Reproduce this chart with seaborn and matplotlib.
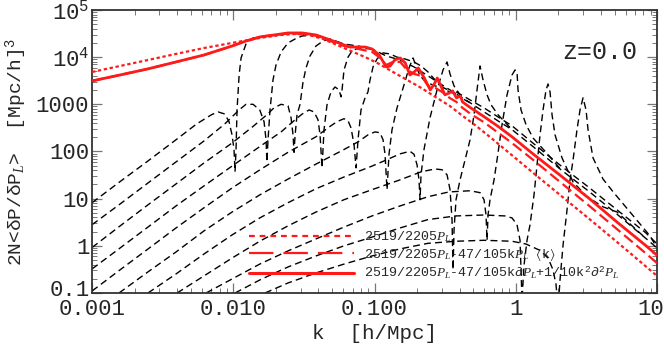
"""Response of the nonlinear power spectrum to the linear one, z=0.

Black dashed curves: measured 2N<dP/dP_L> for a set of k bins.
Red curves: the three analytic approximations from the legend.
"""

import matplotlib

matplotlib.use("Agg")

import matplotlib.pyplot as plt
import seaborn as sns
from matplotlib.transforms import ScaledTranslation

# --- red curves (k in h/Mpc, value in (Mpc/h)^3) -------------------------
DOTTED_K = [0.001, 0.00158, 0.00249, 0.00393, 0.0062, 0.0098, 0.0154, 0.0218,
            0.0274, 0.0344, 0.0432, 0.0543, 0.068, 0.086, 0.108, 0.135, 0.170,
            0.214, 0.269, 0.34, 0.42, 0.53, 0.67, 0.84, 1.33, 2.10, 3.32, 5.2,
            8.3, 10]
DOTTED_V = [4850, 6500, 8700, 11700, 15600, 20000, 25500, 29500, 31000, 29500,
            24300, 18100, 13500, 10000, 7150, 4850, 3290, 2230, 1440, 930, 570,
            340, 193, 110, 35, 11.4, 3.7, 1.21, 0.37, 0.23]

SOLID_K = [0.001, 0.00158, 0.00249, 0.00393, 0.0062, 0.0098, 0.0123, 0.0154,
           0.0194, 0.0244, 0.0307, 0.0386, 0.0485, 0.061, 0.068, 0.077, 0.086,
           0.096, 0.108, 0.121, 0.129, 0.139, 0.152, 0.165, 0.178, 0.191,
           0.204, 0.225, 0.248, 0.265, 0.278, 0.295, 0.315, 0.34, 0.357, 0.38,
           0.405, 0.42, 0.48, 0.60, 0.75, 0.94, 1.33, 2.10, 3.32, 5.2, 8.3, 10]
SOLID_V = [3130, 4190, 5640, 7900, 11100, 17200, 22000, 26800, 29500, 32600,
           32600, 29500, 23200, 18100, 16400, 16400, 16400, 14900, 11100, 6200,
           6500, 8700, 9600, 7500, 4190, 4850, 5900, 3620, 2020, 2700, 3620,
           2450, 1590, 1750, 1930, 1370, 1500, 1120, 840, 540, 340, 205, 88,
           30, 10, 3.2, 1.02, 0.63]

DASHED_K = [0.001, 0.00158, 0.00249, 0.00393, 0.0062, 0.0098, 0.0123, 0.0154,
            0.0194, 0.0244, 0.0307, 0.0386, 0.0485, 0.061, 0.077, 0.096, 0.108,
            0.121, 0.135, 0.152, 0.170, 0.191, 0.214, 0.240, 0.269, 0.30, 0.34,
            0.38, 0.42, 0.48, 0.60, 0.75, 0.94, 1.33, 2.10, 3.32, 5.2, 8.3, 10]
DASHED_V = [3130, 4190, 5640, 7900, 11100, 17200, 22000, 26800, 29500, 31500,
            31500, 28500, 22000, 17200, 14900, 12900, 10000, 6830, 7900, 7900,
            5350, 4400, 4000, 2450, 2230, 1840, 1370, 1120, 840, 624, 410, 250,
            151, 66, 21.5, 7.0, 2.27, 0.70, 0.43]

# --- black curves: common high-k bundle + one head per k bin -------------
TAIL_K = [0.0154, 0.0194, 0.0244, 0.0307, 0.0385, 0.0484, 0.0608, 0.0764,
          0.096, 0.121, 0.1515, 0.1904, 0.2392, 0.3006, 0.3776, 0.4745, 0.596,
          0.7488, 0.9408, 1.325, 2.10, 3.32, 5.2, 8.3, 10]
TAIL_V = [26800, 29500, 32600, 32600, 29500, 23200, 19000, 17200, 14900, 10600,
          8700, 6200, 4000, 2580, 1670, 1080, 690, 445, 290, 127, 40.5, 14, 4.7,
          1.45, 0.9]
# a second, slightly higher strand of the bundle at high k
TAIL2_K = [0.3776, 0.4745, 0.596, 0.7488, 0.9408, 1.325, 2.10, 3.32, 5.2, 8.3,
           10]
TAIL2_V = [1840, 1240, 840, 540, 350, 150, 49, 17, 5.8, 1.9, 1.1]

C1_K = [0.001, 0.00158, 0.00249, 0.00393, 0.0055, 0.0070, 0.0078, 0.0087,
        0.00933, 0.0098, 0.01012, 0.01029, 0.01046, 0.01063, 0.0110, 0.01135,
        0.0123, 0.0138]
C1_V = [8.2, 23, 63, 177, 383, 600, 690, 624, 430, 225, 110, 37, 110, 760,
        4190, 9600, 19000, 25500]

C2_K = [0.001, 0.00158, 0.00249, 0.00393, 0.0062, 0.0087, 0.0110, 0.0123,
        0.0138, 0.0154, 0.01651, 0.01706, 0.0173, 0.01762, 0.0182, 0.01911,
        0.02007, 0.0218, 0.0244, 0.0274, 0.0307]
C2_V = [2.8, 7.7, 21.5, 60, 167, 383, 760, 1000, 1000, 760, 430, 177, 60, 177,
        760, 3290, 6830, 12900, 20000, 24300, 28100]

C3_K = [0.001, 0.00158, 0.00249, 0.00393, 0.0062, 0.0098, 0.0138, 0.0173,
        0.0194, 0.0218, 0.0244, 0.02564, 0.02649, 0.02692, 0.0274, 0.02827,
        0.0297, 0.03118, 0.03273, 0.03494, 0.0385, 0.0432, 0.0484]
C3_V = [0.92, 2.64, 7.4, 20.5, 57, 151, 340, 600, 840, 1000, 930, 520, 225, 96,
        225, 600, 1000, 2980, 5900, 10600, 17200, 22000, 24300]

C4_K = [0.001, 0.00158, 0.00249, 0.00393, 0.0062, 0.0098, 0.0154, 0.0218,
        0.0274, 0.0307, 0.0344, 0.0373, 0.0398, 0.04114, 0.0425, 0.0439,
        0.0461, 0.0492, 0.05254, 0.05608, 0.05793, 0.0589, 0.0608, 0.0649,
        0.0693, 0.0764]
C4_V = [0.323, 0.90, 2.5, 7.0, 18.6, 49, 127, 260, 470, 620, 760, 690, 470, 225,
        45, 290, 980, 1840, 2330, 2020, 1440, 2020, 5350, 10000, 13500, 15600]

C5_K = [0.001, 0.00158, 0.00249, 0.00393, 0.0062, 0.0098, 0.01547, 0.0244,
        0.0385, 0.0484, 0.0543, 0.0608, 0.0649, 0.0682, 0.0716, 0.0740, 0.0764,
        0.0802, 0.0857, 0.0899, 0.0929, 0.0976, 0.1041, 0.1149, 0.1287,
        0.1443, 0.1644, 0.1904, 0.2134, 0.2392, 0.2682, 0.3006, 0.3369]
C5_V = [0.110, 0.31, 0.857, 2.39, 6.4, 16.8, 41, 96, 205, 340, 430, 495, 450,
        315, 140, 45, 177, 760, 1370, 1840, 3290, 6200, 9140, 12300, 11700,
        10000, 9140, 7900, 6500, 4850, 3290, 2330, 1840]

C6_K = [0.001553, 0.00249, 0.00393, 0.0062, 0.0098, 0.01547, 0.0244, 0.0385,
        0.0608, 0.0764, 0.0899, 0.1008, 0.1093, 0.1149, 0.1187, 0.1226, 0.1266,
        0.1330, 0.1443, 0.1617, 0.1755, 0.1874, 0.1967, 0.2100, 0.2315,
        0.2682, 0.3006]
C6_V = [0.1, 0.28, 0.74, 2.07, 5.2, 12.1, 26, 54, 110, 160, 225, 260, 250, 177,
        87, 15.5, 87, 290, 840, 2580, 5900, 9600, 6500, 4000, 2980, 2450, 2330]

C7_K = [0.00249, 0.00393, 0.0062, 0.0098, 0.0154, 0.0244, 0.0385, 0.0608,
        0.096, 0.121, 0.1515, 0.1784, 0.1904, 0.2000, 0.2065, 0.2100, 0.2134,
        0.2240, 0.2471, 0.2770, 0.3055, 0.3262, 0.3424, 0.3655, 0.4030, 0.4232]
C7_V = [0.1, 0.253, 0.67, 1.7, 3.9, 8.2, 16.2, 28.8, 49, 66, 89, 101, 87, 52,
        25, 9.5, 32, 110, 520, 2020, 5350, 7900, 4400, 2450, 1590, 1300]

C8_K = [0.0040, 0.0062, 0.0098, 0.0154, 0.0244, 0.0385, 0.0608, 0.096, 0.1515,
        0.2134, 0.2682, 0.3006, 0.3262, 0.3424, 0.3537, 0.3595, 0.3655,
        0.3776, 0.4030, 0.4372, 0.4745, 0.5064, 0.5317, 0.5584, 0.5864,
        0.6259, 0.6680, 0.7488]
C8_V = [0.1, 0.23, 0.55, 1.25, 2.65, 5.2, 9.5, 15.5, 25, 37, 42.6, 41, 32, 15.5,
        3.6, 0.31, 2.2, 9.5, 25, 66, 177, 600, 2020, 6500, 3290, 1590, 980, 600]

C9_K = [0.00642, 0.0098, 0.0154, 0.0244, 0.0385, 0.0608, 0.096, 0.1515, 0.2392,
        0.3369, 0.4745, 0.5584, 0.5960, 0.6157, 0.6259, 0.6362, 0.6571,
        0.7015, 0.7366, 0.7991, 0.8672, 0.9408, 0.9879, 1.0205, 1.0373,
        1.0893, 1.1820, 1.3250, 1.611]
C9_V = [0.1, 0.198, 0.41, 0.78, 1.40, 2.5, 4.3, 7.0, 11, 13.9, 14.7, 13.4, 9.5,
        4.5, 1.31, 4.5, 9.5, 25, 66, 370, 1590, 4190, 5350, 4850, 2020, 760,
        370, 193, 101]

C10_K = [0.01029, 0.01547, 0.0244, 0.0385, 0.0608, 0.096, 0.1515, 0.2392,
         0.3776, 0.5960, 0.8393, 0.9408, 1.0205, 1.0717, 1.1072, 1.1439,
         1.2012, 1.2616, 1.3466, 1.4140, 1.4850, 1.5596, 1.6378, 1.6920,
         1.7481, 1.8059, 1.8966, 2.1259, 2.5435, 3.1949, 4.1464, 5.2115]
C10_V = [0.1, 0.19, 0.356, 0.61, 1.0, 1.53, 2.39, 3.6, 4.3, 4.5, 4.3, 3.9, 2.8,
         1.31, 0.071, 0.39, 1.31, 2.8, 12.1, 52, 225, 760, 2020, 2700, 1840,
         600, 225, 73, 22.6, 11, 6.7, 5.2]

C11_K = [0.01678, 0.0244, 0.0385, 0.0608, 0.096, 0.1515, 0.2392, 0.3776,
         0.5960, 0.9408, 1.182, 1.485, 1.692, 1.835, 1.928, 1.991, 2.057,
         2.160, 2.306, 2.423, 2.5435, 2.7136, 2.850, 2.9935, 3.1435, 3.2478,
         3.5238, 4.1464, 4.8818, 6.4407, 8.923]
C11_V = [0.1, 0.163, 0.266, 0.41, 0.61, 0.86, 1.13, 1.25, 1.31, 1.25, 1.09,
         0.80, 0.55, 0.31, 0.15, 0.044, 0.19, 1.02, 5.8, 25, 66, 290, 760,
         1370, 760, 290, 73, 26, 14, 5.2, 1.62]

BINS = [(C1_K, C1_V), (C2_K, C2_V), (C3_K, C3_V), (C4_K, C4_V), (C5_K, C5_V),
        (C6_K, C6_V), (C7_K, C7_V), (C8_K, C8_V), (C9_K, C9_V),
        (C10_K, C10_V), (C11_K, C11_V)]

X_TICKS = [0.001, 0.01, 0.1, 1, 10]
X_LABELS = ["0.001", "0.010", "0.100", "1", "10"]
Y_TICKS = [0.1, 1, 10, 100, 1000, 1e4, 1e5]
Y_LABELS = ["0.1", "1", "10", "100", "1000",
            r"$\mathregular{10^4}$", r"$\mathregular{10^5}$"]

LEGEND_LABELS = [
    r"2519/2205$P_L$",
    r"2519/2205$P_L$-47/105k$P_L$ $\langle$k$\rangle$",
    r"2519/2205$P_L$-47/105k∂$P_L$+1/10k$^2$∂$^2P_L$",
]

RED = "#ff1a1a"
BLACK_DASH = (0, (5, 3))


def join_bundle(k, v, tail_k, tail_v):
    """Extend a bin's own points by the first bundle point past its end."""
    kk, vv = list(k), list(v)
    for tk, tv in zip(tail_k, tail_v):
        if tk > kk[-1] * 1.02:
            kk.append(tk)
            vv.append(tv)
            break
    return kk, vv


def black_line(ax, k, v):
    sns.lineplot(x=k, y=v, ax=ax, color="black", linewidth=1.0,
                 linestyle=BLACK_DASH, sort=False, estimator=None, zorder=2)


def nudge(label, fig, dx, dy):
    """Shift a tick label by (dx, dy) inches."""
    label.set_transform(label.get_transform()
                        + ScaledTranslation(dx, dy, fig.dpi_scale_trans))


def main() -> None:
    sns.set_theme(style="ticks")
    plt.rcParams["font.family"] = ["Liberation Mono", "DejaVu Sans"]
    plt.rcParams["mathtext.fontset"] = "custom"
    plt.rcParams["mathtext.rm"] = "Liberation Mono"
    plt.rcParams["mathtext.it"] = "Liberation Serif:italic"
    plt.rcParams["mathtext.fallback"] = "stix"

    fig = plt.figure(figsize=(6.64, 3.5), dpi=100)
    ax = fig.add_axes([0.1386, 0.1629, 0.8509, 0.8086])
    ax.set_xscale("log")
    ax.set_yscale("log")

    for k, v in BINS:
        black_line(ax, *join_bundle(k, v, TAIL_K, TAIL_V))
    black_line(ax, TAIL_K, TAIL_V)
    black_line(ax, TAIL2_K, TAIL2_V)

    sns.lineplot(x=DOTTED_K, y=DOTTED_V, ax=ax, color=RED, linewidth=1.6,
                 linestyle=(0, (1.5, 1.2)), sort=False, estimator=None,
                 zorder=3, label=LEGEND_LABELS[0])
    sns.lineplot(x=DASHED_K, y=DASHED_V, ax=ax, color=RED, linewidth=1.6,
                 linestyle=(0, (5, 2.2)), sort=False, estimator=None,
                 zorder=3, label=LEGEND_LABELS[1])
    sns.lineplot(x=SOLID_K, y=SOLID_V, ax=ax, color=RED, linewidth=2.0,
                 sort=False, estimator=None, zorder=4,
                 label=LEGEND_LABELS[2])

    ax.set_xlim(0.001, 10)
    ax.set_ylim(0.1, 1e5)
    ax.set_xticks(X_TICKS, X_LABELS)
    ax.set_yticks(Y_TICKS, Y_LABELS)
    ax.tick_params(which="both", direction="in", top=True, right=True,
                   color="#777777", labelsize=16, pad=2)
    ax.tick_params(axis="x", pad=4)
    ax.tick_params(which="major", length=7, width=0.9)
    ax.tick_params(which="minor", length=3.5, width=0.7)
    for spine in ax.spines.values():
        spine.set_linewidth(1.3)
        spine.set_color("#333333")

    # keep the corner labels apart and inside the canvas
    nudge(ax.get_xticklabels()[-1], fig, -0.06, 0)
    nudge(ax.get_yticklabels()[0], fig, 0, 0.05)

    ax.set_xlabel("k  [h/Mpc]", fontsize=15, labelpad=3)
    ax.set_ylabel(r"2N<δP/δP$_L$>  [Mpc/h]$^{\mathregular{3}}$", fontsize=14,
                  labelpad=5)

    ax.text(0.832, 0.852, "z=0.0", transform=ax.transAxes, fontsize=18,
            ha="left", va="center")

    handles, labels = ax.get_legend_handles_labels()
    leg = ax.legend(handles, labels, loc="upper left",
                    bbox_to_anchor=(0.278, 0.225), frameon=False,
                    fontsize=9.6, handlelength=7.9, handletextpad=0.7,
                    labelspacing=0.15, borderpad=0, borderaxespad=0)
    # the legend samples use a longer dash pattern than the curves
    leg_lines = leg.get_lines()
    leg_lines[0].set_linestyle((0, (2.6, 2.2)))
    leg_lines[1].set_linestyle((0, (11, 4.5)))
    leg_lines[2].set_linewidth(2.2)

    fig.savefig("out.png", dpi=100)
    plt.close(fig)


if __name__ == "__main__":
    main()
